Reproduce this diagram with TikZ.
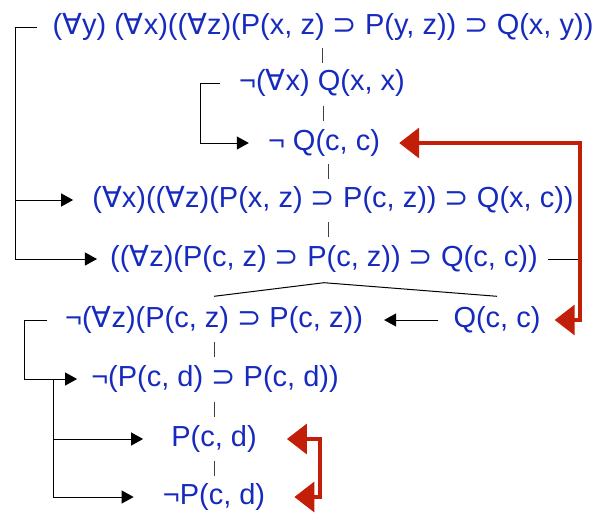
\documentclass[tikz,border=0pt]{standalone}
\usepackage{fontspec}
\setmainfont{Liberation Sans}
\newfontfamily\symf{DejaVu Sans}
\usetikzlibrary{arrows.meta, calc}
\definecolor{formula}{RGB}{22,42,190}
\definecolor{clash}{RGB}{195,30,8}
\newcommand{\fall}{{\symf ∀}}
\newcommand{\hook}{{\symf ⊃}}

\begin{document}
\begin{tikzpicture}[x=1pt, y=-1pt,
  wff/.style={inner sep=0pt, text=formula, font=\fontsize{29}{33}\selectfont,
              text height=21pt, text depth=6pt},
  line/.style={draw=black, line width=1pt},
  arr/.style={line, -{Triangle[length=12pt, width=13pt]}},
  tick/.style={draw=black!75, line width=1pt},
  closed/.style={draw=clash, line width=3.5pt, line join=miter,
                 {Triangle[length=20pt, width=30pt]}-{Triangle[length=20pt, width=30pt]}},
]
\useasboundingbox (0,0) rectangle (595,515);

% Trunk of the tableau
\node[wff] (r1) at (323,27) {(\fall y) (\fall x)((\fall z)(P(x, z) \hook{} P(y, z)) \hook{} Q(x, y))};
\node[wff] (r2) at (322,83) {¬(\fall x) Q(x, x)};
\node[wff] (r3) at (324,143) {¬ Q(c, c)};
\node[wff] (r4) at (333,200) {(\fall x)((\fall z)(P(x, z) \hook{} P(c, z)) \hook{} Q(x, c))};
\node[wff] (r5) at (324,259) {((\fall z)(P(c, z) \hook{} P(c, z)) \hook{} Q(c, c))};

% Two branches
\node[wff] (r6) at (214,320) {¬(\fall z)(P(c, z) \hook{} P(c, z))};
\node[wff] (q6) at (497,320) {Q(c, c)};

% Left branch, continued
\node[wff] (r7) at (215,379) {¬(P(c, d) \hook{} P(c, d))};
\node[wff] (r8) at (214,439) {P(c, d)};
\node[wff] (r9) at (214,497) {¬P(c, d)};

% Spines of the brackets
\coordinate (spineA) at (15,0);
\coordinate (spineB) at (200,0);
\coordinate (spineC) at (24,0);
\coordinate (spineD) at (53,0);
\coordinate (redA) at (580,0);
\coordinate (redB) at (320,0);

% Dashes between successive lines
\foreach \a/\b in {r1/r2, r2/r3, r3/r4, r4/r5, r6/r7, r7/r8, r8/r9} {
  \coordinate (mid) at ($(\a.south)!0.5!(\b.north)$);
  \draw[tick] ([yshift=7.5pt]mid) -- ([yshift=-7.5pt]mid);
}

% Branching
\coordinate (fork) at ([yshift=-10pt]r5.south);
\draw[line] ([yshift=10pt]r6.north) -- (fork) -- ([yshift=10pt]q6.north);

% Instances of the universals
\draw[line] ([xshift=-15pt]r1.west) -- (r1.west -| spineA) -- (r5.west -| spineA);
\draw[arr] (r4.west -| spineA) -- ([xshift=-19pt]r4.west);
\draw[arr] (r5.west -| spineA) -- ([xshift=-13pt]r5.west);

\draw[line] ([xshift=-19pt]r2.west) -- (r2.west -| spineB) -- (r3.west -| spineB);
\draw[arr] (r3.west -| spineB) -- ([xshift=-19pt]r3.west);

\draw[arr] ([xshift=-15pt]q6.west) -- ([xshift=21pt]r6.east);

\draw[line] ([xshift=-18pt]r6.west) -- (r6.west -| spineC) -- (r7.west -| spineC);
\draw[arr] (r7.west -| spineC) -- ([xshift=-14pt]r7.west);
\draw[line] (r7.west -| spineD) -- (r9.west -| spineD);
\draw[arr] (r8.west -| spineD) -- ([xshift=-28pt]r8.west);
\draw[arr] (r9.west -| spineD) -- ([xshift=-29pt]r9.west);

% Closed branches
\draw[line] ([xshift=10pt]r5.east) -- (r5.east -| redA);
\draw[closed] ([xshift=19pt]r3.east) -- (r3.east -| redA) -- (q6.east -| redA) -- ([xshift=14pt]q6.east);
\draw[closed] ([xshift=30pt]r8.east) -- (r8.east -| redB) -- (r9.east -| redB) -- ([xshift=29pt]r9.east);

\end{tikzpicture}
\end{document}
